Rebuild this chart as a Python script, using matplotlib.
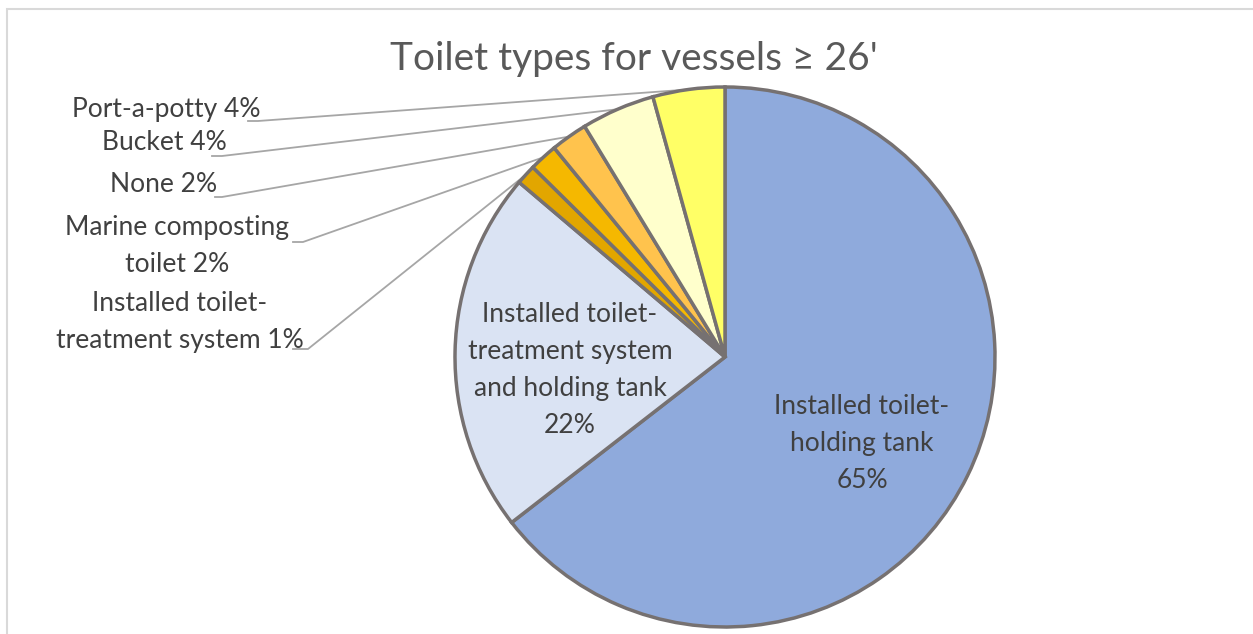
import numpy as np
import matplotlib.pyplot as plt
from matplotlib.patches import Rectangle

W, H = 1253, 634

labels = ["Installed toilet-\nholding tank\n65%",
          "Installed toilet-\ntreatment system\nand holding tank\n22%",
          "Installed toilet-\ntreatment system 1%",
          "Marine composting\ntoilet 2%",
          "None 2%",
          "Bucket 4%",
          "Port-a-potty 4%"]
values = [64.5, 21.7, 1.2, 1.7, 2.2, 4.4, 4.3]
colors = ["#8FAADC", "#DAE3F3", "#E2A600", "#F5B800", "#FFC34D", "#FFFFCC", "#FFFF66"]

plt.rcParams['font.family'] = ['Lato', 'DejaVu Sans']

fig = plt.figure(figsize=(W / 100, H / 100), dpi=100)
ax = fig.add_axes([0, 0, 1, 1])

cx, cy, r = 725, H - 357, 270
wedges, _ = ax.pie(values, colors=colors, startangle=90, counterclock=False,
                   center=(cx, cy), radius=r,
                   wedgeprops=dict(edgecolor="#767171", linewidth=2.5))
ax.set_xlim(0, W)
ax.set_ylim(0, H)
ax.set_aspect('equal')
ax.axis('off')

# chart border
ax.add_patch(Rectangle((7, -20), W + 20, H - 9 + 20, fill=False,
                       edgecolor="#D9D9D9", linewidth=1.5, clip_on=True))

ax.text(634, H - 59, "Toilet types for vessels \u2265 26'", ha='center', va='center',
        fontsize=28, color="#595959")

# labels inside the two big slices
inside = {0: (862, 443), 1: (570, 370)}
for i, (x, y) in inside.items():
    ax.text(x, H - y, labels[i], ha='center', va='center', fontsize=19,
            color="#404040", linespacing=1.6)

# outer labels with leader lines: text centre, line start, stub end
outer = {2: ((180, 322), (293, 349), (308, 349)),
         3: ((177, 246), (293, 242), (303, 242)),
         4: ((164, 184), (215, 197), (222, 197)),
         5: ((164, 143), (212, 156), (222, 156)),
         6: ((166, 109), (248, 121), (258, 121))}
for i, (tpos, p0, p1) in outer.items():
    w = wedges[i]
    mid = np.deg2rad((w.theta1 + w.theta2) / 2)
    ex, ey = cx + r * np.cos(mid), cy + r * np.sin(mid)
    ax.plot([p0[0], p1[0], ex], [H - p0[1], H - p1[1], ey], color="#A6A6A6",
            linewidth=1.3, zorder=0.5)
    ax.text(tpos[0], H - tpos[1], labels[i], ha='center', va='center', fontsize=19,
            color="#404040", linespacing=1.6)

fig.savefig("out.png", dpi=100)
